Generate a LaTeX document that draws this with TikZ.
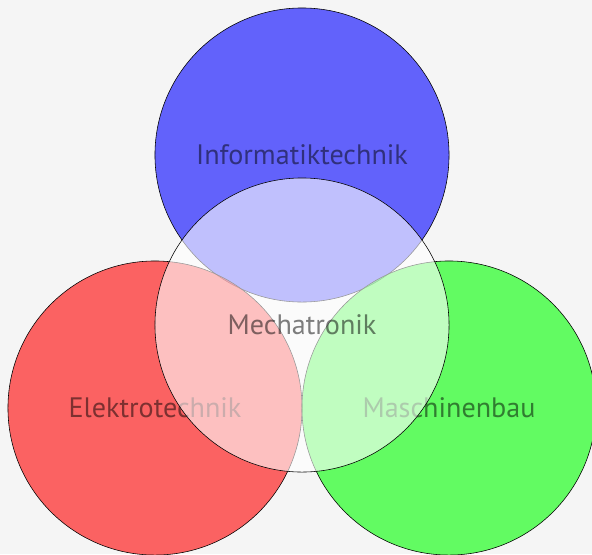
\documentclass[tikz,border=0pt]{standalone}
\usepackage{fontspec}
\setmainfont{PT Sans}
\usetikzlibrary{positioning}
\definecolor{bgGrey}{RGB}{245,245,245}
\definecolor{fachBlau}{RGB}{0,0,255}
\definecolor{fachRot}{RGB}{255,0,0}
\definecolor{fachGruen}{RGB}{0,255,0}
\tikzset{
  fach/.style={circle, draw=black, line width=0.4pt, fill opacity=0.6,
               text opacity=0.5, text=black, minimum size=7.35cm, inner sep=0pt,
               font=\fontsize{20}{24}\selectfont},
  kern/.style={fach, fill=white},
}
\begin{document}
\begin{tikzpicture}[x=0.025cm, y=-0.025cm]
  \fill[bgGrey] (0,0) rectangle (592,554);
  \useasboundingbox (0,0) rectangle (592,554);
  \node[fach, fill=fachBlau]  (info)      at (302,155) {Informatiktechnik};
  \node[fach, fill=fachRot]   (elektro)   at (155,408) {Elektrotechnik};
  \node[fach, fill=fachGruen] (maschinen) at (449,408) {Maschinenbau};
  \node[kern] (mecha) at (302,325) {Mechatronik};
\end{tikzpicture}
\end{document}
